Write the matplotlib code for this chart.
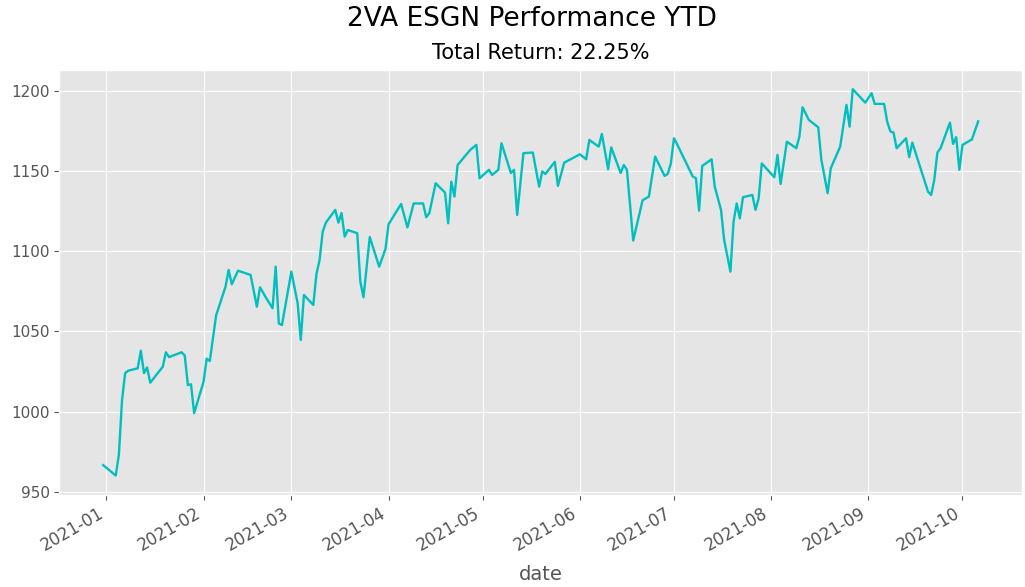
import matplotlib
matplotlib.use("Agg")
import matplotlib.pyplot as plt
import pandas as pd

# vertices (date, portfolio value)
dates = [
    "2020-12-31", "2021-01-04", "2021-01-05", "2021-01-06", "2021-01-07", "2021-01-08",
    "2021-01-11", "2021-01-12", "2021-01-13", "2021-01-14", "2021-01-15", "2021-01-19",
    "2021-01-20", "2021-01-21", "2021-01-25", "2021-01-26", "2021-01-27", "2021-01-28",
    "2021-01-29", "2021-02-01", "2021-02-02", "2021-02-03", "2021-02-05", "2021-02-08",
    "2021-02-09", "2021-02-10", "2021-02-12", "2021-02-16", "2021-02-18", "2021-02-19",
    "2021-02-21", "2021-02-23", "2021-02-24", "2021-02-25", "2021-02-26", "2021-03-01",
    "2021-03-03", "2021-03-04", "2021-03-05", "2021-03-08", "2021-03-09", "2021-03-10",
    "2021-03-11", "2021-03-12", "2021-03-15", "2021-03-16", "2021-03-17", "2021-03-18",
    "2021-03-19", "2021-03-22", "2021-03-23", "2021-03-24", "2021-03-26", "2021-03-29",
    "2021-03-31", "2021-04-01", "2021-04-05", "2021-04-07", "2021-04-09", "2021-04-12",
    "2021-04-13", "2021-04-14", "2021-04-16", "2021-04-19", "2021-04-20", "2021-04-21",
    "2021-04-22", "2021-04-23", "2021-04-27", "2021-04-29", "2021-04-30", "2021-05-03",
    "2021-05-04", "2021-05-06", "2021-05-07", "2021-05-10", "2021-05-11", "2021-05-12",
    "2021-05-14", "2021-05-17", "2021-05-19", "2021-05-20", "2021-05-21", "2021-05-24",
    "2021-05-25", "2021-05-27", "2021-06-01", "2021-06-03", "2021-06-04", "2021-06-07",
    "2021-06-08", "2021-06-10", "2021-06-11", "2021-06-14", "2021-06-15", "2021-06-16",
    "2021-06-18", "2021-06-21", "2021-06-23", "2021-06-25", "2021-06-28", "2021-06-29",
    "2021-06-30", "2021-07-01", "2021-07-02", "2021-07-07", "2021-07-08", "2021-07-09",
    "2021-07-10", "2021-07-13", "2021-07-14", "2021-07-16", "2021-07-17", "2021-07-19",
    "2021-07-20", "2021-07-21", "2021-07-22", "2021-07-23", "2021-07-26", "2021-07-27",
    "2021-07-28", "2021-07-29", "2021-08-02", "2021-08-03", "2021-08-04", "2021-08-06",
    "2021-08-09", "2021-08-10", "2021-08-11", "2021-08-13", "2021-08-16", "2021-08-17",
    "2021-08-19", "2021-08-20", "2021-08-23", "2021-08-25", "2021-08-26", "2021-08-27",
    "2021-08-31", "2021-09-02", "2021-09-03", "2021-09-06", "2021-09-07", "2021-09-08",
    "2021-09-09", "2021-09-10", "2021-09-13", "2021-09-14", "2021-09-15", "2021-09-20",
    "2021-09-21", "2021-09-22", "2021-09-23", "2021-09-24", "2021-09-27", "2021-09-28",
    "2021-09-29", "2021-09-30", "2021-10-01", "2021-10-04", "2021-10-06",
]
values = [
    966.5, 960.0, 973.0, 1007.0, 1024.0, 1025.5,
    1027.0, 1038.0, 1024.0, 1027.5, 1018.0, 1028.0,
    1037.0, 1034.0, 1037.0, 1035.0, 1016.5, 1017.0,
    999.0, 1018.6, 1033.0, 1031.6, 1060.0, 1078.0,
    1088.4, 1079.5, 1088.0, 1085.3, 1065.5, 1077.6,
    1070.8, 1064.5, 1090.5, 1055.0, 1054.0, 1087.4,
    1067.6, 1044.7, 1072.8, 1066.6, 1086.0, 1094.7,
    1112.4, 1118.0, 1126.0, 1118.0, 1124.0, 1109.3,
    1113.4, 1111.4, 1081.0, 1071.4, 1109.0, 1090.5,
    1101.5, 1117.0, 1129.7, 1115.0, 1130.0, 1130.0,
    1121.4, 1124.0, 1142.6, 1136.8, 1117.6, 1143.6,
    1134.3, 1154.0, 1163.4, 1166.6, 1145.7, 1151.0,
    1147.8, 1151.0, 1167.6, 1149.0, 1151.0, 1122.8,
    1161.4, 1161.8, 1140.5, 1150.0, 1148.4, 1156.0,
    1141.0, 1155.5, 1160.7, 1157.6, 1169.7, 1165.5,
    1173.4, 1151.4, 1165.0, 1149.0, 1154.0, 1151.0,
    1106.8, 1132.0, 1134.3, 1159.3, 1147.2, 1148.4,
    1155.0, 1170.7, 1167.0, 1146.8, 1145.8, 1125.5,
    1153.4, 1157.6, 1140.5, 1126.0, 1107.2, 1087.4,
    1118.6, 1130.0, 1120.7, 1133.9, 1135.3, 1126.0,
    1133.2, 1155.0, 1146.4, 1160.3, 1142.2, 1168.6,
    1164.5, 1171.8, 1190.1, 1182.2, 1177.6, 1157.2,
    1136.4, 1152.0, 1165.5, 1191.6, 1178.0, 1201.4,
    1193.0, 1198.9, 1192.2, 1192.2, 1181.0, 1175.0,
    1174.3, 1164.5, 1170.7, 1158.9, 1168.0, 1137.4,
    1135.3, 1144.7, 1161.8, 1164.5, 1180.5, 1167.2,
    1171.4, 1151.0, 1166.6, 1170.0, 1181.3,
]

title = "2VA ESGN Performance YTD"
subtitle = "Total Return: 22.25%"

plt.style.use("ggplot")
plt.rcParams["xtick.labelsize"] = 12
plt.rcParams["ytick.labelsize"] = 11

df = pd.DataFrame({"date": pd.to_datetime(dates), "value": values})

fig = plt.figure(figsize=(10.25, 5.87), dpi=100)
ax = fig.add_axes([0.058, 0.157, 0.939, 0.724])
ax.plot(df["date"], df["value"], color="c", linewidth=1.7)

fig.suptitle(title, fontsize=19, x=0.519, y=0.99)
ax.set_title(subtitle, fontsize=15, pad=8)
ax.set_xlabel("date", fontsize=14, labelpad=7)
ax.set_yticks([950, 1000, 1050, 1100, 1150, 1200])
fig.autofmt_xdate(bottom=0.157)

fig.savefig("out.png", dpi=100)
